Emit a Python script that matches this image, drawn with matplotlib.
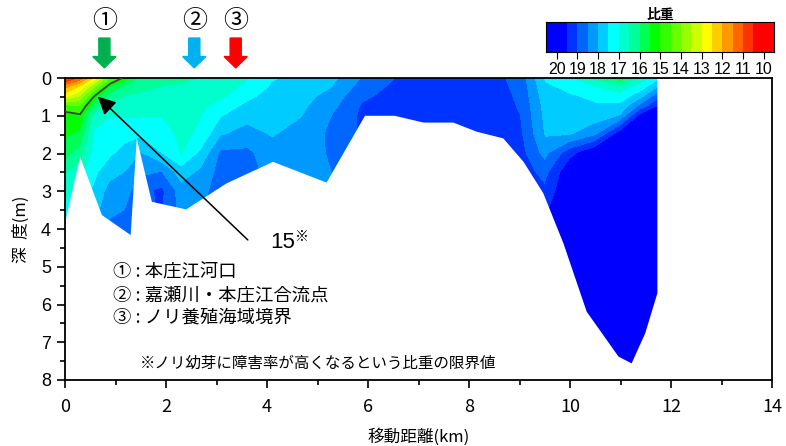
import numpy as np
import matplotlib.pyplot as plt
from matplotlib.colors import ListedColormap, BoundaryNorm
from matplotlib.patches import Polygon, FancyArrow

plt.rcParams['font.family'] = ['Noto Sans CJK JP', 'DejaVu Sans']

# survey stations along the transect (km) and sampling depths (m)
dist = [0.0, 0.3, 0.6, 0.9, 1.2, 1.5, 1.9, 2.3, 2.7, 3.1, 3.6, 4.1, 4.7,
        5.3, 5.9, 6.6, 7.5, 8.4, 9.0, 9.5, 10.0, 10.5, 11.0, 11.4, 11.75]
depth = [0, 0.25, 0.5, 0.75, 1.0, 1.5, 2.0, 2.5, 3.0, 4.0, 5.0, 6.0, 8.0]

# specific gravity profile at each station (top -> bottom)
sigma = [
    [10.0, 11.8, 12.8, 14.6, 15.3, 15.4, 15.8, 16.4, 16.8, 17.3, 17.5, 17.6, 17.8],
    [11.0, 12.5, 13.5, 14.5, 15.1, 15.6, 16.2, 16.8, 17.2, 17.6, 17.8, 17.9, 18.0],
    [12.5, 14.0, 15.2, 15.9, 16.7, 17.1, 17.2, 17.4, 17.6, 18.0, 18.2, 18.3, 18.4],
    [14.3, 15.5, 16.2, 16.6, 16.95, 17.3, 17.4, 17.8, 18.2, 18.6, 18.7, 18.8, 18.9],
    [15.2, 16.1, 16.5, 16.75, 16.95, 17.3, 17.7, 18.0, 18.3, 18.7, 18.8, 18.9, 19.0],
    [16.0, 16.35, 16.6, 16.8, 16.95, 17.4, 18.0, 18.4, 18.8, 19.0, 19.0, 19.0, 19.0],
    [16.2, 16.5, 16.7, 16.85, 16.98, 17.25, 17.5, 18.5, 19.1, 19.0, 19.0, 19.0, 19.0],
    [16.4, 16.55, 16.65, 16.72, 16.8, 16.85, 16.95, 17.7, 18.2, 18.4, 18.5, 18.5, 18.5],
    [16.5, 16.6, 16.75, 16.85, 16.98, 17.1, 17.6, 18.1, 18.3, 18.5, 18.5, 18.5, 18.5],
    [16.6, 16.75, 16.9, 17.2, 17.45, 17.95, 18.6, 18.7, 18.8, 18.9, 18.9, 18.9, 18.9],
    [16.95, 17.1, 17.35, 17.6, 17.8, 18.2, 18.6, 18.7, 18.8, 18.8, 18.8, 18.8, 18.8],
    [17.45, 17.55, 17.7, 17.8, 17.85, 17.95, 18.2, 18.3, 18.3, 18.3, 18.3, 18.3, 18.3],
    [17.6, 17.7, 17.8, 17.9, 17.98, 18.2, 18.3, 18.4, 18.45, 18.45, 18.45, 18.45, 18.45],
    [17.85, 18.0, 18.2, 18.35, 18.5, 18.6, 18.55, 18.5, 18.5, 18.5, 18.5, 18.5, 18.5],
    [18.52, 18.7, 18.9, 19.05, 19.1, 19.1, 19.1, 19.1, 19.1, 19.1, 19.1, 19.1, 19.1],
    [19.02, 19.15, 19.2, 19.25, 19.3, 19.3, 19.3, 19.3, 19.3, 19.3, 19.3, 19.3, 19.3],
    [19.2, 19.3, 19.3, 19.35, 19.35, 19.35, 19.35, 19.35, 19.35, 19.35, 19.35, 19.35, 19.35],
    [19.2, 19.25, 19.3, 19.3, 19.3, 19.3, 19.3, 19.3, 19.3, 19.3, 19.3, 19.3, 19.3],
    [18.8, 18.85, 18.9, 18.95, 19.0, 19.1, 19.2, 19.3, 19.3, 19.3, 19.3, 19.3, 19.3],
    [17.4, 17.6, 17.7, 17.8, 17.85, 17.95, 18.3, 18.8, 19.1, 19.6, 20.0, 20.0, 20.0],
    [17.0, 17.35, 17.55, 17.7, 17.8, 17.95, 19.3, 19.9, 20.0, 20.0, 20.0, 20.0, 20.0],
    [16.3, 17.0, 17.4, 17.55, 17.7, 18.4, 20.0, 20.0, 20.0, 20.0, 20.0, 20.0, 20.0],
    [15.6, 16.6, 17.2, 17.6, 18.0, 19.8, 20.0, 20.0, 20.0, 20.0, 20.0, 20.0, 20.0],
    [16.6, 17.2, 17.8, 18.6, 19.6, 20.0, 20.0, 20.0, 20.0, 20.0, 20.0, 20.0, 20.0],
    [17.3, 18.0, 18.8, 19.5, 19.9, 20.0, 20.0, 20.0, 20.0, 20.0, 20.0, 20.0, 20.0],
]

# sea bottom outline (km, m)
bed_x = [0.0, 0.30, 0.73, 1.30, 1.42, 1.72, 2.40, 3.20, 4.12, 5.18, 5.94, 6.53,
         7.10, 7.69, 8.15, 8.68, 9.08, 9.47, 9.87, 10.33, 10.96, 11.22, 11.49, 11.73]
bed_d = [3.85, 2.09, 3.63, 4.16, 1.60, 3.28, 3.48, 2.79, 2.22, 2.77, 1.00, 1.00,
         1.18, 1.18, 1.42, 1.60, 2.22, 3.05, 4.38, 6.19, 7.38, 7.56, 6.76, 5.70]

levels = np.arange(10.5, 19.51, 0.5)
colors = ['#FF3300', '#FF6600', '#FF9900', '#FFCC00', '#FFFF00', '#CCFF00',
          '#99FF00', '#66FF00', '#33FF00', '#00FF00', '#00FF55', '#00FF99',
          '#00FFCC', '#00FFFF', '#00CCFF', '#0099FF', '#0066FF', '#0033FF']
cmap = ListedColormap(colors)
cmap.set_under('#FF0000')
cmap.set_over('#0000FF')
norm = BoundaryNorm(levels, cmap.N)

fig = plt.figure(figsize=(7.86, 4.46), dpi=100)
ax = fig.add_axes([0.0827, 0.148, 0.8995, 0.677])

Z = np.array(sigma).T
ax.contourf(dist, depth, Z, levels=levels, cmap=cmap, norm=norm, extend='both', zorder=1)
ax.contour(dist, depth, Z, levels=[15], colors='#404040', linewidths=1.3, zorder=3)

# mask everything below the bottom
poly = list(zip(bed_x, bed_d)) + [(11.73, -0.05), (14.5, -0.05), (14.5, 8.5), (-0.1, 8.5), (-0.1, 3.85)]
ax.add_patch(Polygon(poly, closed=True, facecolor='white', edgecolor='none', zorder=2))

ax.set_xlim(0, 14)
ax.set_ylim(8, 0)
ax.set_xticks(range(0, 15, 2))
ax.set_xticks(range(1, 14, 2), minor=True)
ax.set_yticks(range(0, 9))
ax.set_yticks(np.arange(0.5, 8, 1), minor=True)
ax.tick_params(which='major', direction='out', length=6, width=1.2)
ax.tick_params(which='minor', direction='out', length=3.5, width=1.2)
ax.tick_params(axis='x', labelsize=13, pad=7)
ax.tick_params(axis='y', labelsize=13, pad=4)
for lbl in ax.get_yticklabels():
    lbl.set_fontfamily('Liberation Sans')
for s in ax.spines.values():
    s.set_linewidth(1.3)
ax.set_xlabel('移動距離(km)', fontsize=12, labelpad=9)
ax.set_ylabel('深  度(m)', fontsize=12, labelpad=8)

# station markers
for x, mark, col in [(0.78, '①', '#00B050'), (2.56, '②', '#00B0F0'), (3.38, '③', '#FF0000')]:
    ax.add_patch(FancyArrow(x, -1.06, 0, 0.79, width=0.22, head_width=0.46, head_length=0.3,
                            length_includes_head=True, color=col, clip_on=False, zorder=5))
    ax.text(x, -1.52, mark, fontsize=18, ha='center', va='center', zorder=5)

ax.annotate('', xy=(0.61, 0.44), xytext=(3.66, 4.34),
            arrowprops=dict(arrowstyle='-|>,head_length=0.6,head_width=0.3',
                            mutation_scale=18, lw=1.1, color='black'), zorder=6)
ax.text(4.07, 4.36, '15', fontsize=16, family='Liberation Sans', va='center', zorder=6)
ax.text(4.55, 4.2, '※', fontsize=10, va='center', zorder=6)

legend_lines = ['① : 本庄江河口', '② : 嘉瀬川・本庄江合流点', '③ : ノリ養殖海域境界']
for i, t in enumerate(legend_lines):
    ax.text(0.95, 5.15 + i * 0.6, t, fontsize=13.2, va='center', zorder=6)
ax.text(1.49, 7.55, '※ノリ幼芽に障害率が高くなるという比重の限界値', fontsize=11.2, va='center', zorder=6)

# colour scale
cax = fig.add_axes([0.695, 0.883, 0.29, 0.067])
bounds = np.concatenate([[9.5], levels, [20.5]])
mids = (bounds[:-1] + bounds[1:]) / 2
cax.pcolormesh(bounds, [0, 1], [mids], cmap=cmap, norm=norm)
cax.set_xlim(20.5, 9.5)
cax.set_yticks([])
cax.set_xticks(range(10, 21))
cax.tick_params(axis='x', direction='out', length=5, labelsize=11.5, pad=2)
for lbl in cax.get_xticklabels():
    lbl.set_fontfamily('Liberation Sans')
cax.set_title('比重', fontsize=10, fontweight='bold', pad=2)

fig.savefig('out.png', dpi=100)
